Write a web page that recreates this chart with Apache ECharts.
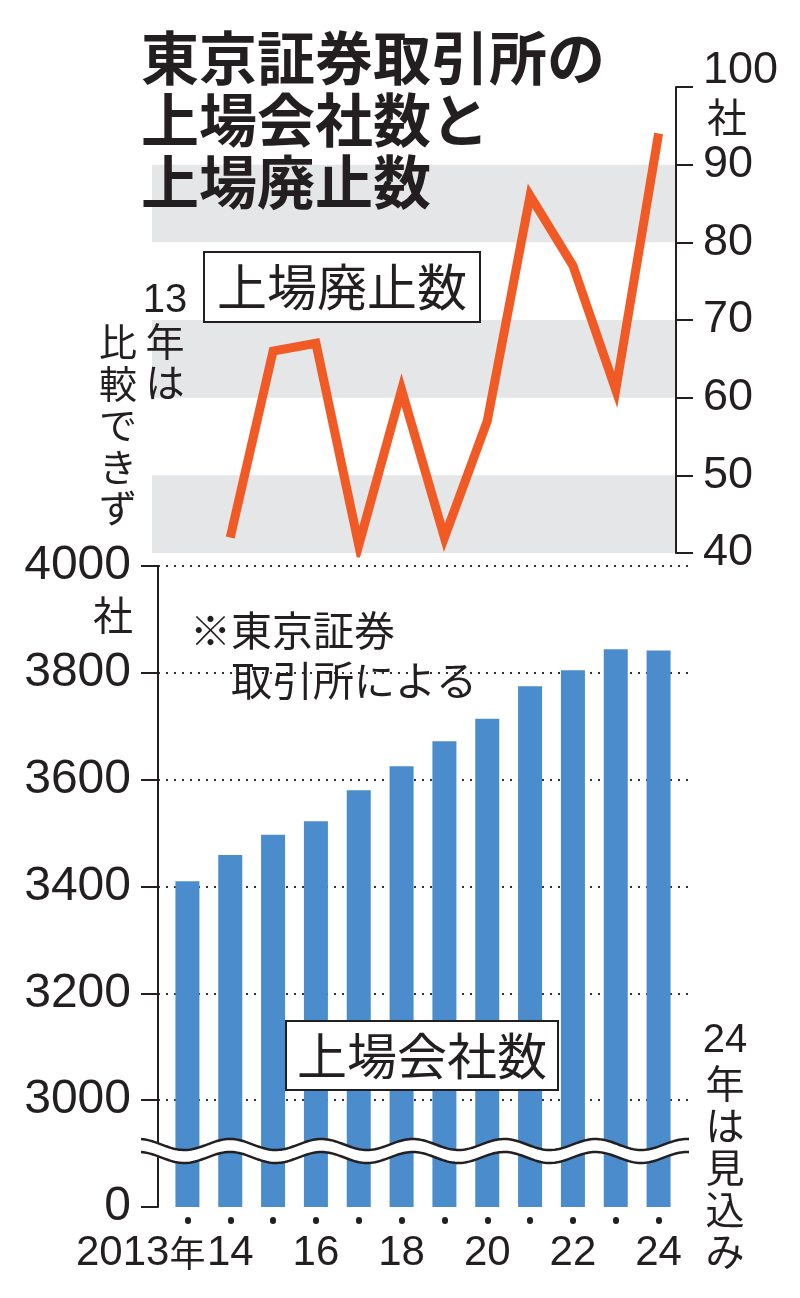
<!DOCTYPE html>
<html><head><meta charset="utf-8">
<script src="https://cdn.jsdelivr.net/npm/echarts@6/dist/echarts.min.js"></script>
<style>html,body{margin:0;padding:0;background:#fff}#c{width:800px;height:1298px}</style>
</head><body><div id="c"></div>
<script>
// ---- data ----
const years = ['2013','2014','2015','2016','2017','2018','2019','2020','2021','2022','2023','2024'];
const xTickLabels = ['2013年','14','','16','','18','','20','','22','','24'];
const listedCompanies = [3410,3459,3497,3522,3580,3625,3672,3714,3775,3805,3844,3842];
const delistings = [null,42,66,67,41,61,42,57,86,77,61,94];
const barAxisTicks = [2800,3000,3200,3400,3600,3800,4000];
const barAxisLabels = ['0','3000','3200','3400','3600','3800','4000'];
const lineAxisTicks = [40,50,60,70,80,90,100];
const lineAxisLabels = ['40','50','60','70','80','90','100'];

// ---- style ----
const INK = '#231f20';
const BLUE = '#4a8ccc';
const ORANGE = '#f15a24';
const GREY = '#e5e6e8';
const NUM = '"Liberation Sans",Arial,sans-serif';
const CJK = '"Noto Sans CJK JP","Noto Sans CJK SC",sans-serif';

const mctx = document.createElement('canvas').getContext('2d');
mctx.font = '42px ' + NUM;
const digitW = mctx.measureText('2013').width;

// wave (axis break decoration)
function wavePts(offset) {
  const pts = [];
  for (let x = 141; x <= 690; x += 2) {
    pts.push([x, 1144.5 + offset - 5.5 * Math.cos(2 * Math.PI * (x - 230) / 91.4)]);
  }
  return pts;
}
const upper = wavePts(0), lower = wavePts(13);

const chart = echarts.init(document.getElementById('c'), null, {renderer: 'canvas'});
const gridBase = {containLabel: false, outerBoundsMode: 'none'};
chart.setOption({
  animation: false,
  backgroundColor: '#fff',
  grid: [
    Object.assign({left: 158, right: 110, top: 566, bottom: 91}, gridBase),
    Object.assign({left: 166, right: 120, top: 566, bottom: 91}, gridBase),
    Object.assign({left: 152, right: 124, top: 87, bottom: 745}, gridBase),
    Object.assign({left: 166, right: 120, top: 87, bottom: 745}, gridBase)
  ],
  xAxis: [
    {type: 'category', gridIndex: 0, show: false, data: ['a']},
    {
      type: 'category', gridIndex: 1, data: years, offset: 13,
      axisLine: {show: false},
      axisTick: {show: true, alignWithLabel: true, length: 1, lineStyle: {color: INK, width: 6, cap: 'round'}},
      axisLabel: {
        interval: 0, margin: 12, color: INK, fontFamily: NUM, fontSize: 42,
        formatter: (v, i) => {
          const t = xTickLabels[i];
          if (!t) return '';
          if (t.endsWith('年')) return '{d|' + t.slice(0, -1) + '}{n|年}{g|\u00a0}';
          return t;
        },
        rich: {
          d: {fontFamily: NUM, fontSize: 42, color: INK},
          n: {fontFamily: CJK, fontSize: 36, color: INK},
          g: {width: digitW}
        }
      },
      splitLine: {show: false}
    },
    {type: 'category', gridIndex: 2, show: false, data: ['a']},
    {type: 'category', gridIndex: 3, data: years, show: false}
  ],
  yAxis: [
    {
      type: 'value', gridIndex: 0, min: 2800, max: 4000, interval: 200,
      axisLine: {show: true, onZero: false, lineStyle: {color: INK, width: 2}},
      axisTick: {show: true, length: 17, lineStyle: {color: INK, width: 2}},
      axisLabel: {
        margin: 27, color: INK, fontFamily: NUM, fontSize: 48,
        formatter: v => barAxisLabels[barAxisTicks.indexOf(v)] || ''
      },
      splitLine: {show: true, showMinLine: false, lineStyle: {type: [2, 6], width: 2, color: '#333'}}
    },
    {type: 'value', gridIndex: 1, min: 2800, max: 4000, interval: 200, show: false, splitLine: {show: false}},
    {
      type: 'value', gridIndex: 2, position: 'right', min: 40, max: 100, interval: 10,
      axisLine: {show: true, onZero: false, lineStyle: {color: INK, width: 2}},
      axisTick: {show: true, length: 17, lineStyle: {color: INK, width: 2}},
      axisLabel: {
        margin: 27, color: INK, fontFamily: NUM, fontSize: 45,
        formatter: v => {
          const t = lineAxisLabels[lineAxisTicks.indexOf(v)] || '';
          if (v === 100) return '{s| }\n{n|' + t + '}\n{u|社}';
          return '{n|' + t + '}';
        },
        rich: {
          s: {lineHeight: 14, fontSize: 10},
          n: {fontFamily: NUM, fontSize: 45, lineHeight: 46, color: INK},
          u: {fontFamily: CJK, fontSize: 40, lineHeight: 46, color: INK, padding: [0, 0, 0, 4]}
        }
      },
      splitLine: {show: false},
      splitArea: {show: true, areaStyle: {color: [GREY, 'rgba(255,255,255,0)']}}
    },
    {type: 'value', gridIndex: 3, min: 40, max: 100, show: false, splitLine: {show: false}}
  ],
  series: [
    {
      type: 'bar', xAxisIndex: 1, yAxisIndex: 1, data: listedCompanies,
      barWidth: 24, itemStyle: {color: BLUE}, silent: true, z: 3
    },
    {
      type: 'line', xAxisIndex: 3, yAxisIndex: 3, data: delistings,
      symbol: 'none', connectNulls: false, silent: true, z: 4,
      lineStyle: {color: ORANGE, width: 9, join: 'miter', cap: 'butt'}
    }
  ],
  graphic: [
    {type: 'text', x: 141, y: 27, z: 100, style: {
      text: '東京証券取引所の\n上場会社数と\n上場廃止数', fontFamily: CJK, fontSize: 58,
      fontWeight: 'bold', lineHeight: 62, fill: INK, align: 'left', verticalAlign: 'top'}},
    {type: 'text', x: 205, y: 253, z: 100, style: {
      text: '上場廃止数', fontFamily: CJK, fontSize: 50, lineHeight: 56, fill: INK,
      backgroundColor: '#fff', borderColor: INK, borderWidth: 2, padding: [6, 12, 6, 12],
      align: 'left', verticalAlign: 'top'}},
    {type: 'text', x: 287, y: 1022, z: 100, style: {
      text: '上場会社数', fontFamily: CJK, fontSize: 50, lineHeight: 55, fill: INK,
      backgroundColor: '#fff', borderColor: INK, borderWidth: 2, padding: [6, 10, 6, 10],
      align: 'left', verticalAlign: 'top'}},
    {type: 'text', x: 190, y: 605, z: 100, style: {
      text: '※東京証券\n\u3000取引所による', fontFamily: CJK, fontSize: 41, lineHeight: 50,
      fill: INK, align: 'left', verticalAlign: 'top'}},
    {type: 'text', x: 133, y: 595, z: 100, style: {
      text: '社', fontFamily: CJK, fontSize: 40, lineHeight: 40, fill: INK, align: 'right', verticalAlign: 'top'}},
    {type: 'text', x: 165, y: 280, z: 100, style: {
      text: '{d|13}\n{c|年}\n{c|は}', align: 'center', verticalAlign: 'top',
      rich: {d: {fontFamily: NUM, fontSize: 40, lineHeight: 41, fill: INK, align: 'center'},
             c: {fontFamily: CJK, fontSize: 39, lineHeight: 41, fill: INK, align: 'center'}}}},
    {type: 'text', x: 118, y: 321, z: 100, style: {
      text: '比\n較\nで\nき\nず', fontFamily: CJK, fontSize: 38, lineHeight: 41.5,
      fill: INK, align: 'center', verticalAlign: 'top'}},
    {type: 'text', x: 725, y: 1020, z: 100, style: {
      text: '{d|24}\n{c|年}\n{c|は}\n{c|見}\n{c|込}\n{c|み}', align: 'center', verticalAlign: 'top',
      rich: {d: {fontFamily: NUM, fontSize: 40, lineHeight: 42, fill: INK, align: 'center'},
             c: {fontFamily: CJK, fontSize: 39, lineHeight: 42, fill: INK, align: 'center'}}}},
    {type: 'polygon', z: 100, shape: {points: upper.concat(lower.slice().reverse())},
      style: {fill: '#fff', stroke: null}},
    {type: 'polyline', z: 101, shape: {points: upper}, style: {stroke: INK, lineWidth: 2.5, fill: null}},
    {type: 'polyline', z: 101, shape: {points: lower}, style: {stroke: INK, lineWidth: 2.5, fill: null}}
  ]
});
</script>
</body></html>
